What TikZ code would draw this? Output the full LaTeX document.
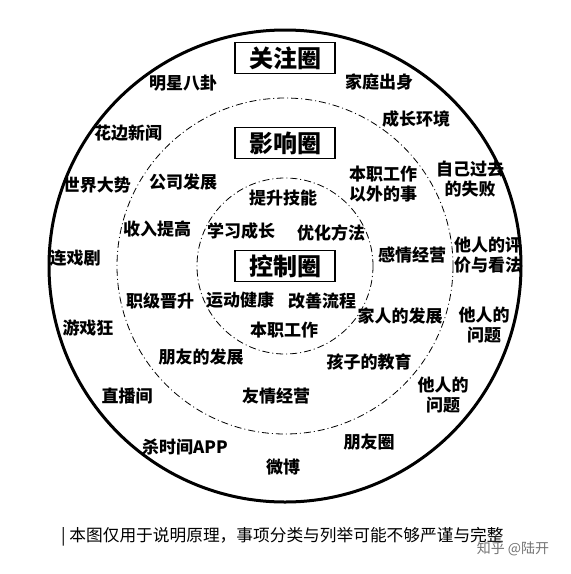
\documentclass[tikz,border=0pt]{standalone}
\usepackage{fontspec}
\newfontfamily\cjk{Noto Sans CJK SC}
\begin{document}
\begin{tikzpicture}[x=1pt,y=-1pt,
  item/.style={font=\cjk\bfseries\fontsize{17}{20}\selectfont, inner sep=1pt, align=center},
  title/.style={draw=black, line width=1.4pt, font=\cjk\bfseries\fontsize{24}{26}\selectfont,
    minimum width=100pt, minimum height=31pt, inner sep=0pt},
  ring/.style={draw=black, line width=0.8pt, dash pattern=on 7pt off 3pt on 1pt off 3pt}]
\useasboundingbox[fill=white] (0,0) rectangle (571,574);
\coordinate (c) at (285,266);
\draw[line width=3pt] (c) circle[radius=236];
\draw[ring] (c) circle[radius=168];
\draw[ring] (c) circle[radius=88];

\node[title, fill=white] (t1) at (285,58) {关注圈};
\node[title, fill=white] (t2) at (285,143) {影响圈};
\node[title, fill=white] (t3) at (285,266) {控制圈};

% outer ring
\node[item] (a1) at (183,83) {明星八卦};
\node[item] (a2) at (379,82) {家庭出身};
\node[item] (a3) at (128,133) {花边新闻};
\node[item] (a4) at (416,119) {成长环境};
\node[item] (a5) at (97,185) {世界大势};
\node[item] (a6) at (470,179) {自己过去\\的失败};
\node[item] (a7) at (75,258) {连戏剧};
\node[item] (a8) at (488,255) {他人的评\\价与看法};
\node[item] (a9) at (88,328) {游戏狂};
\node[item] (a10) at (484,325) {他人的\\问题};
\node[item] (a11) at (127,396) {直播间};
\node[item] (a12) at (443,395) {他人的\\问题};
\node[item] (a13) at (185,447) {杀时间APP};
\node[item] (a14) at (369,442) {朋友圈};
\node[item] (a15) at (283,467) {微博};

% middle ring
\node[item] (b1) at (183,182) {公司发展};
\node[item] (b2) at (383,184) {本职工作\\以外的事};
\node[item] (b3) at (157,229) {收入提高};
\node[item] (b4) at (412,255) {感情经营};
\node[item] (b5) at (160,301) {职级晋升};
\node[item] (b6) at (400,316) {家人的发展};
\node[item] (b7) at (201,357) {朋友的发展};
\node[item] (b8) at (369,362) {孩子的教育};
\node[item] (b9) at (276,396) {友情经营};

% inner ring
\node[item] (c1) at (283,198) {提升技能};
\node[item] (c2) at (241,231) {学习成长};
\node[item] (c3) at (331,233) {优化方法};
\node[item] (c4) at (240,300) {运动健康};
\node[item] (c5) at (322,301) {改善流程};
\node[item] (c6) at (284,330) {本职工作};

\node[font=\cjk\fontsize{16.7}{18}\selectfont, anchor=west, inner sep=0pt] (cap) at (61,537)
  {| 本图仅用于说明原理，事项分类与列举可能不够严谨与完整};
\node[font=\cjk\fontsize{14}{16}\selectfont, text=black!55, inner sep=0pt] (wm) at (513,549) {知乎 @陆开};
\end{tikzpicture}
\end{document}
